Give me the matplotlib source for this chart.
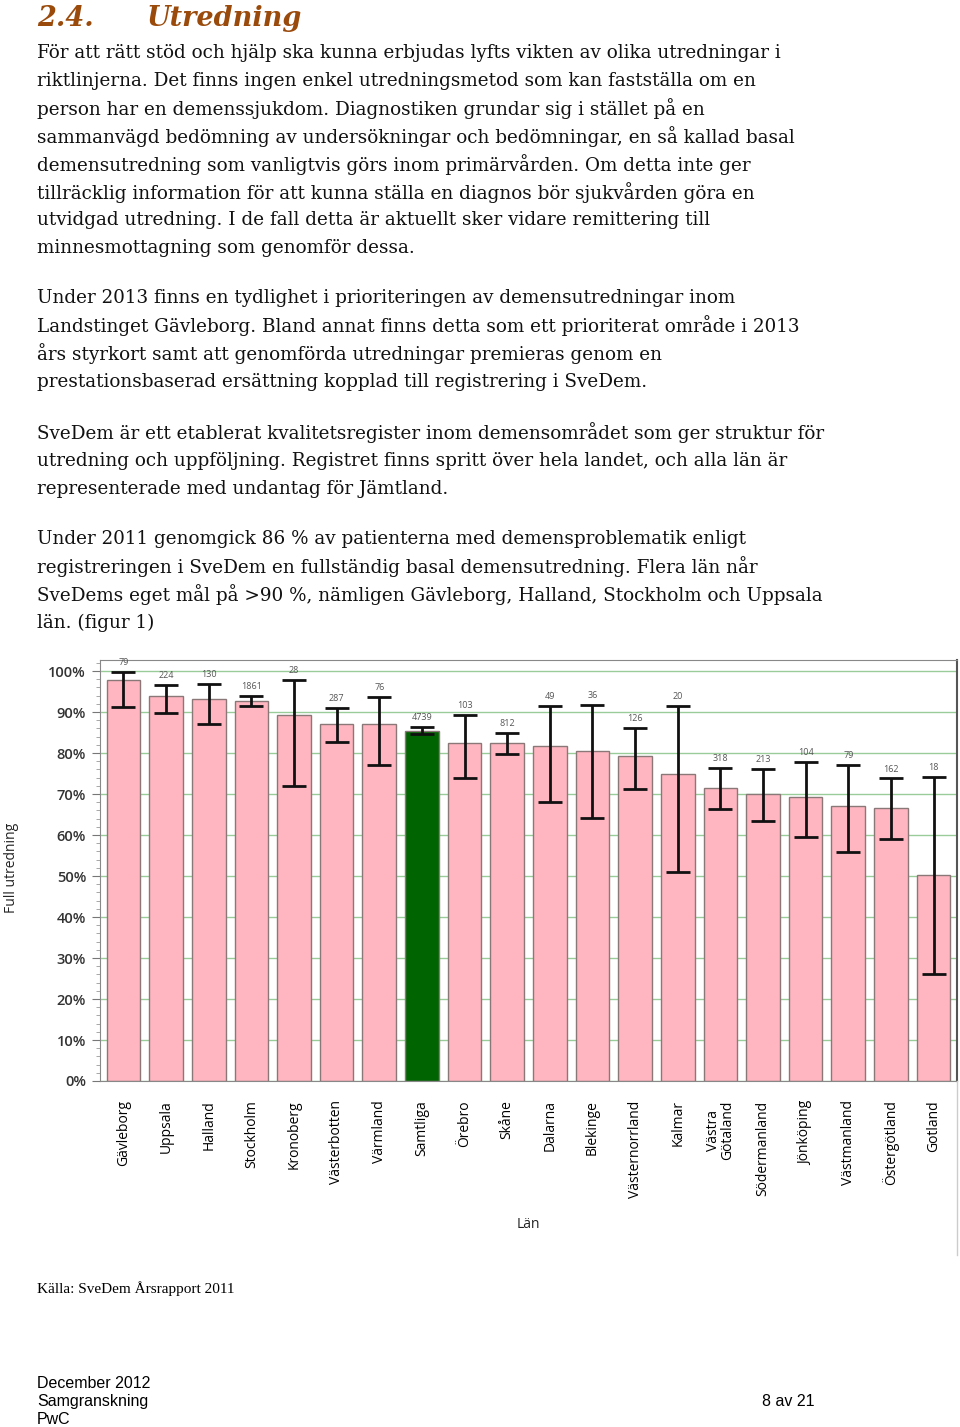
import numpy as np
import matplotlib
matplotlib.use('Agg')
import matplotlib.pyplot as plt
from matplotlib.lines import Line2D
from matplotlib.ticker import MultipleLocator, FuncFormatter

W, H = 960, 1427

# chart data
regions = ['Gävleborg', 'Uppsala', 'Halland', 'Stockholm', 'Kronoberg', 'Västerbotten',
           'Värmland', 'Samtliga', 'Örebro', 'Skåne', 'Dalarna', 'Blekinge',
           'Västernorrland', 'Kalmar', 'Västra\nGötaland', 'Södermanland', 'Jönköping',
           'Västmanland', 'Östergötland', 'Gotland']
values = [97.7, 93.8, 93.2, 92.7, 89.4, 87.2, 87.0, 85.3, 82.5, 82.4, 81.7, 80.6,
          79.4, 75.0, 71.4, 70.1, 69.2, 67.1, 66.7, 50.2]
err_hi = [99.8, 96.5, 96.9, 93.9, 97.8, 90.9, 93.6, 86.3, 89.4, 84.8, 91.5, 91.8,
          86.1, 91.5, 76.3, 76.1, 77.9, 77.2, 73.8, 74.1]
err_lo = [91.2, 89.7, 87.2, 91.4, 72.0, 82.7, 77.2, 84.6, 73.9, 79.7, 68.0, 64.1,
          71.2, 51.0, 66.3, 63.4, 59.5, 55.8, 59.0, 26.2]
n_counts = ['79', '224', '130', '1861', '28', '287', '76', '4739', '103', '812', '49', '36',
            '126', '20', '318', '213', '104', '79', '162', '18']

heading_num = '2.4.'
heading = 'Utredning'
paragraphs = [
    ['För att rätt stöd och hjälp ska kunna erbjudas lyfts vikten av olika utredningar i',
     'riktlinjerna. Det finns ingen enkel utredningsmetod som kan fastställa om en',
     'person har en demenssjukdom. Diagnostiken grundar sig i stället på en',
     'sammanvägd bedömning av undersökningar och bedömningar, en så kallad basal',
     'demensutredning som vanligtvis görs inom primärvården. Om detta inte ger',
     'tillräcklig information för att kunna ställa en diagnos bör sjukvården göra en',
     'utvidgad utredning. I de fall detta är aktuellt sker vidare remittering till',
     'minnesmottagning som genomför dessa.'],
    ['Under 2013 finns en tydlighet i prioriteringen av demensutredningar inom',
     'Landstinget Gävleborg. Bland annat finns detta som ett prioriterat område i 2013',
     'års styrkort samt att genomförda utredningar premieras genom en',
     'prestationsbaserad ersättning kopplad till registrering i SveDem.'],
    ['SveDem är ett etablerat kvalitetsregister inom demensområdet som ger struktur för',
     'utredning och uppföljning. Registret finns spritt över hela landet, och alla län är',
     'representerade med undantag för Jämtland.'],
    ['Under 2011 genomgick 86 % av patienterna med demensproblematik enligt',
     'registreringen i SveDem en fullständig basal demensutredning. Flera län når',
     'SveDems eget mål på >90 %, nämligen Gävleborg, Halland, Stockholm och Uppsala',
     'län. (figur 1)'],
]
para_top = [52, 297, 432, 538]
source = 'Källa: SveDem Årsrapport 2011'
footer = ['December 2012', 'Samgranskning', 'PwC']
page = '8 av 21'


def fx(x):
    return x / W


def fy(y):
    return 1 - y / H


fig = plt.figure(figsize=(W / 100, H / 100), dpi=100)
fig.patch.set_facecolor('white')

# heading
brown = '#9a4b0c'
fig.text(fx(37), fy(19), heading_num, color=brown, fontsize=19.5, family='DejaVu Serif',
         weight='bold', style='italic', va='center')
fig.text(fx(147), fy(19), heading, color=brown, fontsize=19.5, family='DejaVu Serif',
         weight='bold', style='italic', va='center')

# body text
for top, lines in zip(para_top, paragraphs):
    for i, line in enumerate(lines):
        fig.text(fx(37), fy(top + 1 + i * 27.9), line, fontsize=13.2,
                 family='DejaVu Serif', color='#111111', va='center')

# chart
ax = fig.add_axes([fx(100), fy(1081), fx(957) - fx(100), (1081 - 660) / H])
x = np.arange(len(regions))
colors = ['#006400' if r == 'Samtliga' else '#ffb6c1' for r in regions]
ax.bar(x, values, width=0.79, color=colors, edgecolor='#8a7878', linewidth=1, zorder=2)
vals = np.array(values)
ax.errorbar(x, vals, yerr=[vals - np.array(err_lo), np.array(err_hi) - vals], fmt='none',
            ecolor='#111111', elinewidth=2, capsize=8.5, capthick=2, zorder=3)
for xi, hi, n in zip(x, err_hi, n_counts):
    ax.text(xi, hi + 1.2, n, ha='center', va='bottom', fontsize=6.5, color='#555555',
            family='Open Sans')

ax.set_xlim(-0.55, len(regions) - 0.45)
ax.set_ylim(0, 102.7)
ax.yaxis.set_major_locator(MultipleLocator(10))
ax.yaxis.set_minor_locator(MultipleLocator(2))
ax.yaxis.set_major_formatter(FuncFormatter(lambda v, p: f'{int(v)}%'))
ax.grid(axis='y', color='#99cc99', linewidth=1, zorder=0)
ax.set_axisbelow(True)
ax.tick_params(axis='y', which='major', length=6, color='#777777', labelsize=10.5,
               labelcolor='#333333', pad=4)
ax.tick_params(axis='y', which='minor', length=3, color='#999999')
for lab in ax.get_yticklabels():
    lab.set_family('Open Sans')
    lab.set_weight('semibold')
ax.set_xticks(x)
ax.set_xticklabels(regions, rotation=90, fontsize=10, family='Open Sans', va='top',
                   linespacing=0.95)
ax.tick_params(axis='x', length=0, pad=14)
for side in ['top', 'left', 'bottom']:
    ax.spines[side].set_color('#888888')
ax.spines['right'].set_color('#555555')
ax.spines['right'].set_linewidth(1.5)

# right edge of the pasted chart image
fig.add_artist(Line2D([fx(957), fx(957)], [fy(1081), fy(1255)], color='#cccccc', lw=1))

fig.text(fx(12), fy(868), 'Full utredning', rotation=90, fontsize=10, family='Open Sans',
         ha='center', va='center', color='#222222')
fig.text(fx(528), fy(1225), 'Län', fontsize=10, family='Open Sans', ha='center',
         va='center', color='#222222')

# source and footer
fig.text(fx(37), fy(1289), source, fontsize=11, family='Liberation Serif', va='center')
for i, line in enumerate(footer):
    fig.text(fx(37), fy(1383 + i * 18.5), line, fontsize=11.5, family='Liberation Sans',
             va='center')
fig.text(fx(762), fy(1401), page, fontsize=11.5, family='Liberation Sans', va='center')

fig.savefig('out.png', dpi=100)
